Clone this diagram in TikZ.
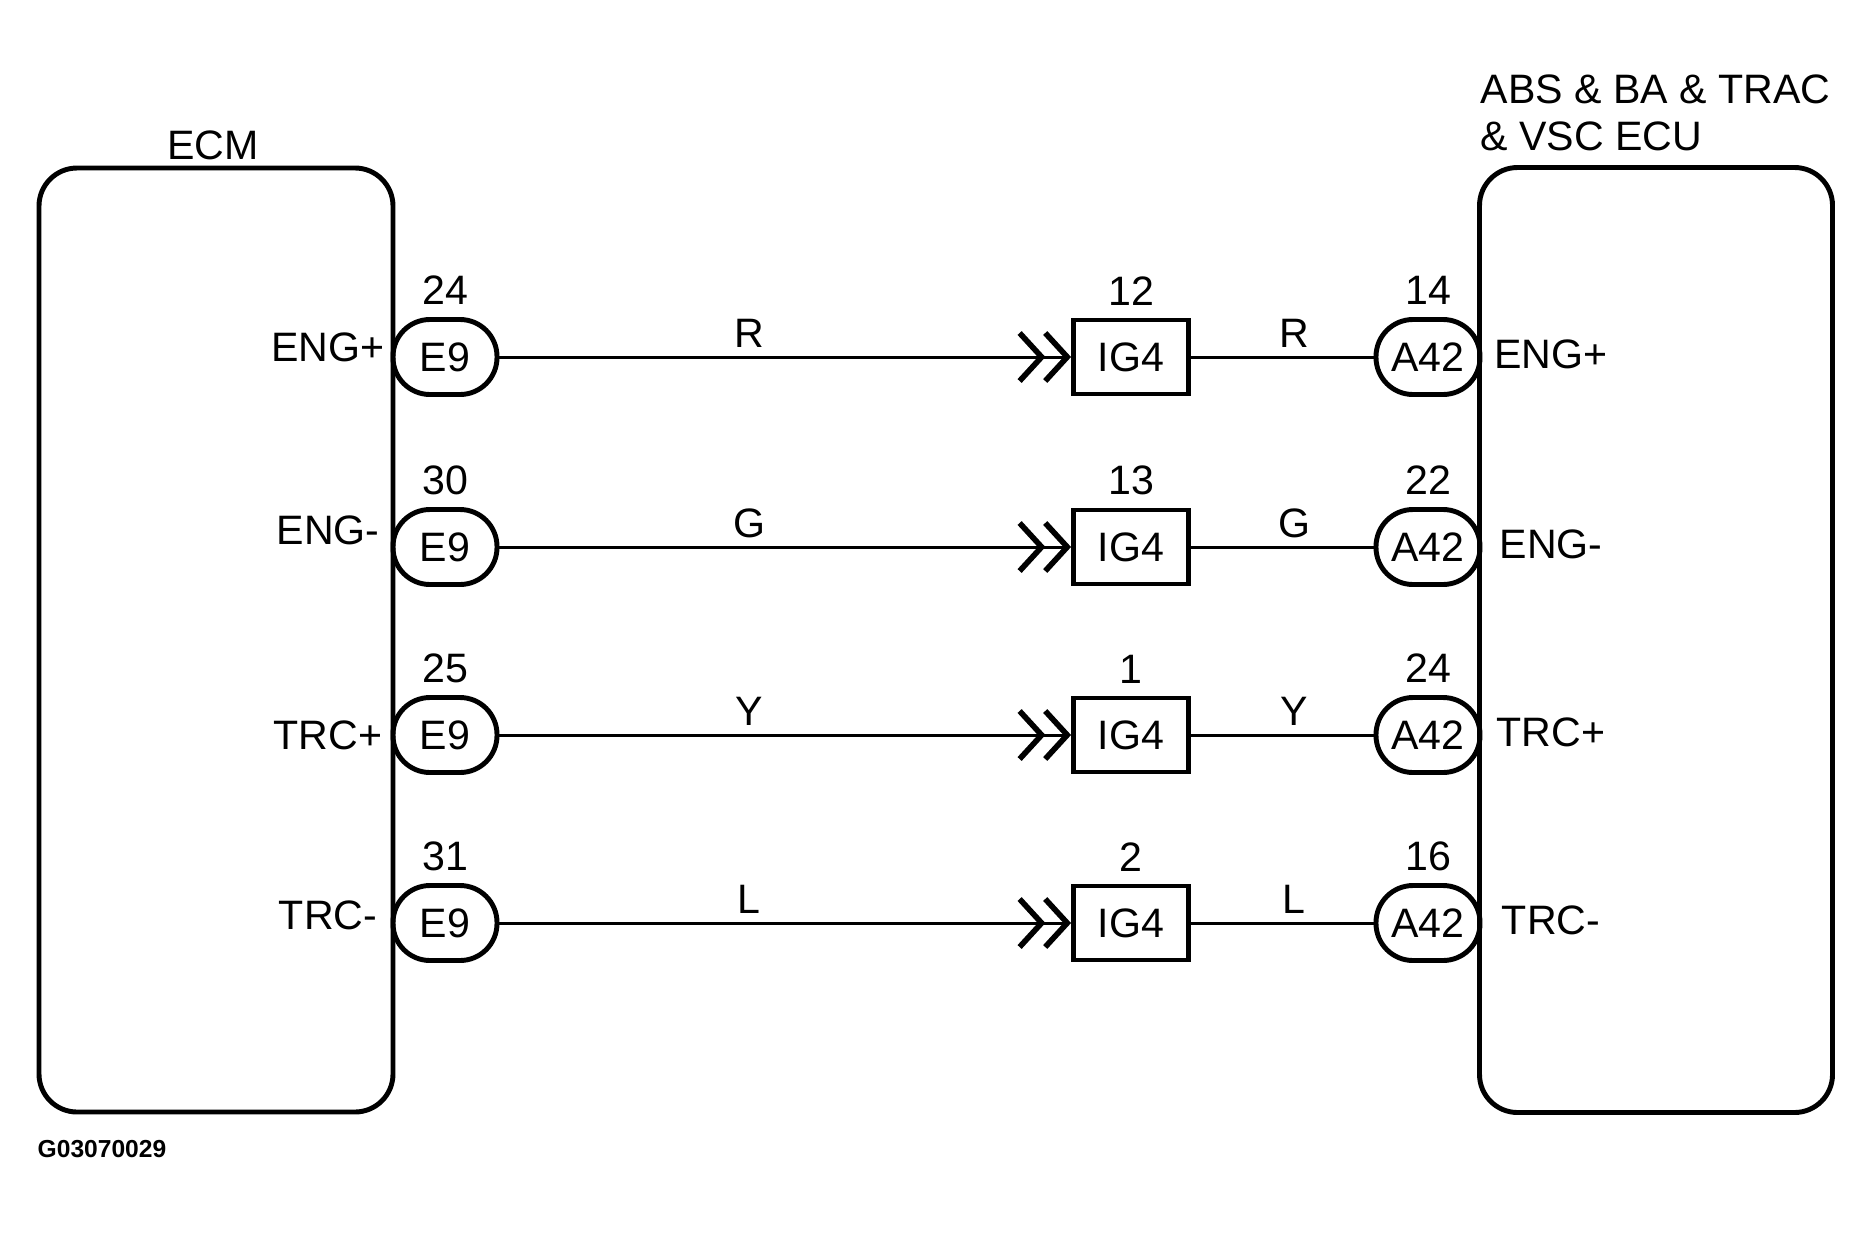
\documentclass[tikz,border=0pt]{standalone}
\usepackage{fontspec}
\setmainfont{Liberation Sans}
\usetikzlibrary{positioning,arrows.meta}

\tikzset{
	ecubox/.style={draw, line width=1.4pt, rounded corners=3.8mm},
	plugpill/.style={draw, line width=1.4pt, rounded corners=3.7mm, inner sep=0,
		minimum width=10.4mm, minimum height=7.5mm},
	jbox/.style={draw, line width=1.4pt, inner sep=0,
		minimum width=11.5mm, minimum height=7.4mm},
	wire/.style={line width=0.85pt},
	chev/.style={-{Straight Barb[length=2.2mm,width=4.8mm,line width=1.6pt,sep=-0.3mm]
		Straight Barb[length=2.2mm,width=4.8mm,line width=1.6pt]}},
}

\begin{document}
\begin{tikzpicture}[x=0.1mm, y=-0.1mm, font=\fontsize{11.7}{13.4}\selectfont]
\useasboundingbox (0,0) rectangle (1875,1234);

\node [ecubox, minimum width=35.4mm, minimum height=94.4mm] (ecm) at (216,640) {};
\node [ecubox, minimum width=35.3mm, minimum height=94.5mm] (abs) at (1656,640) {};
\node at (213,145) {ECM};
\node [align=left, anchor=south west, inner sep=0] at (1480,152) {ABS \& BA \& TRAC\\\& VSC ECU};

\foreach \y/\dy/\ep/\sig/\col/\jp/\ap [count=\i] in
	{357/-10/24/ENG+/R/12/14, 547/-17/30/ENG-/G/13/22, 735/0/25/TRC+/Y/1/24, 923/-8/31/TRC-/L/2/16}
{
	\node [plugpill] (e\i) at (445,\y) {E9};
	\node [jbox]     (j\i) at (1131,\y) {IG4};
	\node [plugpill] (a\i) at (1428,\y) {A42};
	\node [above=0pt of e\i] {\ep};
	\node [above=0pt of j\i] {\jp};
	\node [above=0pt of a\i] {\ap};
	\node at (328,\y+\dy) {\sig};
	\node at (1551,\y-3) {\sig};
	\draw [wire, chev] (e\i) -- (j\i);
	\draw [wire] (j\i) -- (a\i);
	\node at (749,\y-24) {\col};
	\node at (1294,\y-24) {\col};
}

\node [font=\fontsize{7}{8}\selectfont\bfseries, anchor=west, inner sep=0] at (37,1149) {G03070029};
\end{tikzpicture}
\end{document}
